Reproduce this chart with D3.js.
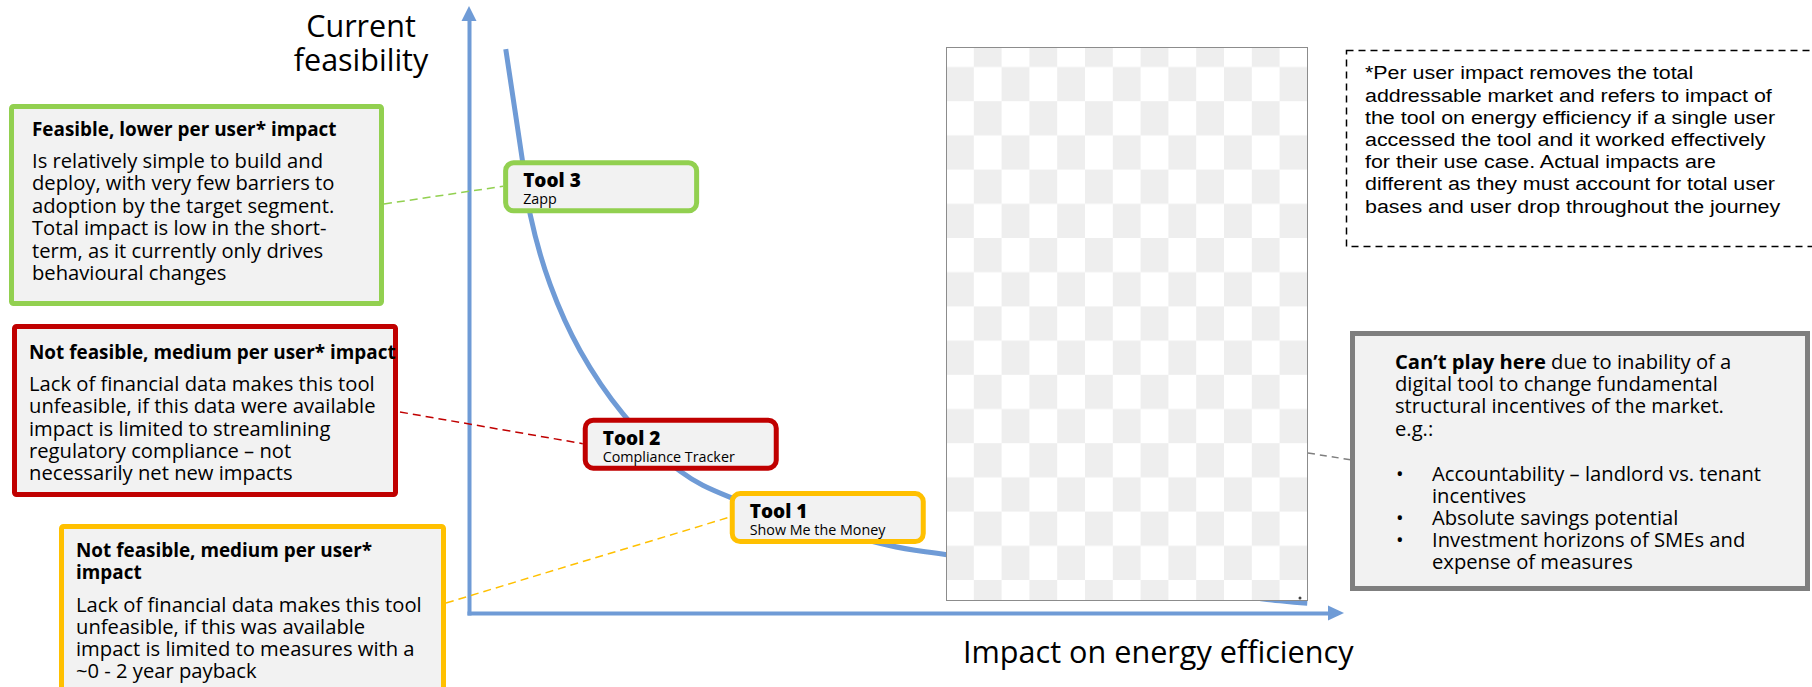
<!DOCTYPE html>
<html><head><meta charset="utf-8">
<script src="https://cdn.jsdelivr.net/npm/d3@7/dist/d3.min.js"></script>
<style>body{margin:0;background:#fff;} svg{display:block}</style>
</head><body><svg id="c" width="1812" height="687"></svg>
<script>
// ---------- data ----------
const curveImpact      = [4.2, 6.1, 7.0, 9.3, 12.7, 17.6, 24.1, 29.8, 47.8, 54.6, 92.7, 95.8];
const curveFeasibility = [92.9, 74.6, 65.6, 54.0, 43.2, 32.8, 23.4, 19.1, 11.2, 9.6, 2.0, 1.6];
const toolNames        = ["Tool 3", "Tool 2", "Tool 1"];
const toolSubtitles    = ["Zapp", "Compliance Tracker", "Show Me the Money"];
const toolImpact       = [15.1, 24.2, 41.0];
const toolFeasibility  = [70.3, 27.9, 15.8];
const yAxisTitle = ["Current", "feasibility"];
const xAxisTitle = "Impact on energy efficiency";
const descTitles = [["Feasible, lower per user* impact"], ["Not feasible, medium per user* impact"], ["Not feasible, medium per user*", "impact"]];
const descBodies = [
  ["Is relatively simple to build and", "deploy, with very few barriers to", "adoption by the target segment.", "Total impact is low in the short-", "term, as it currently only drives", "behavioural changes"],
  ["Lack of financial data makes this tool", "unfeasible, if this data were available", "impact is limited to streamlining", "regulatory compliance \u2013 not", "necessarily net new impacts"],
  ["Lack of financial data makes this tool", "unfeasible, if this was available", "impact is limited to measures with a", "~0 - 2 year payback"]
];
const footnoteLines = ["*Per user impact removes the total", "addressable market and refers to impact of", "the tool on energy efficiency if a single user", "accessed the tool and it worked effectively", "for their use case. Actual impacts are", "different as they must account for total user", "bases and user drop throughout the journey"];
const cantPlayBold = "Can\u2019t play here";
const cantPlayLines = [" due to inability of a", "digital tool to change fundamental", "structural incentives of the market.", "e.g.:"];
const cantPlayBullets = [["Accountability \u2013 landlord vs. tenant", "incentives"], ["Absolute savings potential"], ["Investment horizons of SMEs and", "expense of measures"]];

// ---------- styles ----------
const BLUE = "#6f9bd6";
const toolColors = ["#92d050", "#c00000", "#ffc000"];
const SANS = "'Open Sans', sans-serif";
const BODY_SIZE = 20.2, TITLE_SIZE = 18.9;

const svg = d3.select("#c");
const x = d3.scaleLinear().domain([0, 100]).range([469, 1344]);
const y = d3.scaleLinear().domain([0, 100]).range([613, 6]);

// curve
const pts = curveImpact.map((v, i) => [v, curveFeasibility[i]]);
svg.append("path").datum(pts)
  .attr("d", d3.line().x(d => x(d[0])).y(d => y(d[1])).curve(d3.curveCatmullRom.alpha(0.5)))
  .attr("fill", "none").attr("stroke", BLUE).attr("stroke-width", 5);

// axes
svg.append("g").attr("transform", `translate(0,${y(0)})`)
  .call(d3.axisBottom(x.copy().range([467, 1330])).ticks(0).tickSizeOuter(0));
svg.append("g").attr("transform", `translate(${x(0)},0)`)
  .call(d3.axisLeft(y.copy().range([615, 20])).ticks(0).tickSizeOuter(0));
svg.selectAll(".domain").attr("stroke", BLUE).attr("stroke-width", 4);
svg.append("path").attr("fill", BLUE)
  .attr("d", `M${x(100)},${y(0)} L${x(100) - 16},${y(0) - 7.5} L${x(100) - 16},${y(0) + 7.5}Z`);
svg.append("path").attr("fill", BLUE)
  .attr("d", `M${x(0)},${y(100)} L${x(0) - 7.5},${y(100) + 15} L${x(0) + 7.5},${y(100) + 15}Z`);

// axis titles
svg.append("text").attr("text-anchor", "middle")
  .attr("font-family", SANS).attr("font-size", 30.5).attr("fill", "#000")
  .selectAll("tspan").data(yAxisTitle).join("tspan")
  .attr("x", 361).attr("y", (d, i) => 37 + i * 34).text(d => d);
svg.append("text").attr("x", 963).attr("y", 663)
  .attr("font-family", SANS).attr("font-size", 30.6).attr("fill", "#000").text(xAxisTitle);

// checkerboard placeholder image
const defs = svg.append("defs");
const pat = defs.append("pattern").attr("id", "chk").attr("patternUnits", "userSpaceOnUse")
  .attr("x", 946).attr("y", 32.8).attr("width", 55.6).attr("height", 68.4);
pat.append("rect").attr("width", 55.6).attr("height", 68.4).attr("fill", "#fff");
pat.append("rect").attr("x", 27.8).attr("y", 0).attr("width", 27.8).attr("height", 34.2).attr("fill", "#eeeeee");
pat.append("rect").attr("x", 0).attr("y", 34.2).attr("width", 27.8).attr("height", 34.2).attr("fill", "#eeeeee");
svg.append("rect").attr("x", 946.5).attr("y", 47.5).attr("width", 361).attr("height", 553)
  .attr("fill", "url(#chk)").attr("stroke", "#8c8c8c").attr("stroke-width", 1);
svg.append("circle").attr("cx", 1300).attr("cy", 598).attr("r", 1.5).attr("fill", "#444");

// gray connector
svg.append("line").attr("x1", 1308).attr("y1", 453).attr("x2", 1352).attr("y2", 460)
  .attr("stroke", "#7f7f7f").attr("stroke-width", 1.5).attr("stroke-dasharray", "7,5");

// description boxes (left)
const descBoxes = [
  {x: 11.5, y: 106.5, w: 370, h: 197, tx: 32, ty: 136, by: 168, ls: 22.4, right: 384, cy: 204},
  {x: 14.5, y: 326.5, w: 381, h: 168, tx: 29, ty: 359, by: 391, ls: 22.3, right: 400, cy: 412},
  {x: 61.5, y: 526.5, w: 382, h: 200, tx: 76, ty: 557, by: 612, ls: 22.0, right: 446, cy: 603}
];
descBoxes.forEach((b, i) => {
  const g = svg.append("g");
  g.append("rect").attr("x", b.x).attr("y", b.y).attr("width", b.w).attr("height", b.h).attr("rx", 2)
    .attr("fill", "#f2f2f2").attr("stroke", toolColors[i]).attr("stroke-width", 5);
  g.append("text").attr("font-family", SANS).attr("font-weight", 700).attr("font-size", TITLE_SIZE).attr("fill", "#000")
    .selectAll("tspan").data(descTitles[i]).join("tspan")
    .attr("x", b.tx).attr("y", (d, j) => b.ty + j * 22).text(d => d);
  g.append("text").attr("font-family", SANS).attr("font-size", BODY_SIZE).attr("fill", "#000")
    .selectAll("tspan").data(descBodies[i]).join("tspan")
    .attr("x", b.tx).attr("y", (d, j) => b.by + j * b.ls).text(d => d);
  // connector to tool box
  const tx = x(toolImpact[i]) - 98, ty = y(toolFeasibility[i]);
  svg.append("line").attr("x1", b.right).attr("y1", b.cy).attr("x2", tx).attr("y2", ty)
    .attr("stroke", toolColors[i]).attr("stroke-width", 1.5).attr("stroke-dasharray", "8,5");
});

// tool boxes
toolNames.forEach((name, i) => {
  const cx = x(toolImpact[i]), cy = y(toolFeasibility[i]);
  const g = svg.append("g").attr("transform", `translate(${cx - 98},${cy - 26})`);
  g.append("rect").attr("x", 2.5).attr("y", 2.5).attr("width", 191).attr("height", 48).attr("rx", 8)
    .attr("fill", "#f2f2f2").attr("stroke", toolColors[i]).attr("stroke-width", 5);
  g.append("text").attr("x", 20).attr("y", 27).attr("font-family", SANS).attr("font-weight", 800)
    .attr("font-size", 19).attr("fill", "#000").text(name);
  g.append("text").attr("x", 20).attr("y", 44).attr("font-family", SANS).attr("font-weight", 500)
    .attr("font-size", 14.3).attr("fill", "#000").text(toolSubtitles[i]);
});

// footnote box
svg.append("rect").attr("x", 1346.5).attr("y", 50.5).attr("width", 520).attr("height", 196)
  .attr("fill", "none").attr("stroke", "#000").attr("stroke-width", 1.5).attr("stroke-dasharray", "7,5");
svg.append("g").attr("transform", "translate(1365,0) scale(1.19,1)")
  .append("text").attr("font-family", "'Liberation Sans', Arial, sans-serif").attr("font-size", 18).attr("fill", "#000")
  .selectAll("tspan").data(footnoteLines).join("tspan")
  .attr("x", 0).attr("y", (d, i) => 79.5 + i * 22.2).text(d => d);

// can't play box
svg.append("rect").attr("x", 1352.5).attr("y", 333.5).attr("width", 455).attr("height", 255)
  .attr("fill", "#f2f2f2").attr("stroke", "#7f7f7f").attr("stroke-width", 5);
const ct = svg.append("text").attr("font-family", SANS).attr("font-size", BODY_SIZE).attr("fill", "#000");
ct.append("tspan").attr("x", 1395).attr("y", 369).attr("font-weight", 700).text(cantPlayBold);
ct.append("tspan").text(cantPlayLines[0]);
cantPlayLines.slice(1).forEach((l, i) => ct.append("tspan").attr("x", 1395).attr("y", 391 + i * 22.3).text(l));
let by = 481;
cantPlayBullets.forEach(b => {
  ct.append("tspan").attr("x", 1396).attr("y", by).text("\u2022");
  b.forEach(l => { ct.append("tspan").attr("x", 1432).attr("y", by).text(l); by += 22; });
});
</script></body></html>
